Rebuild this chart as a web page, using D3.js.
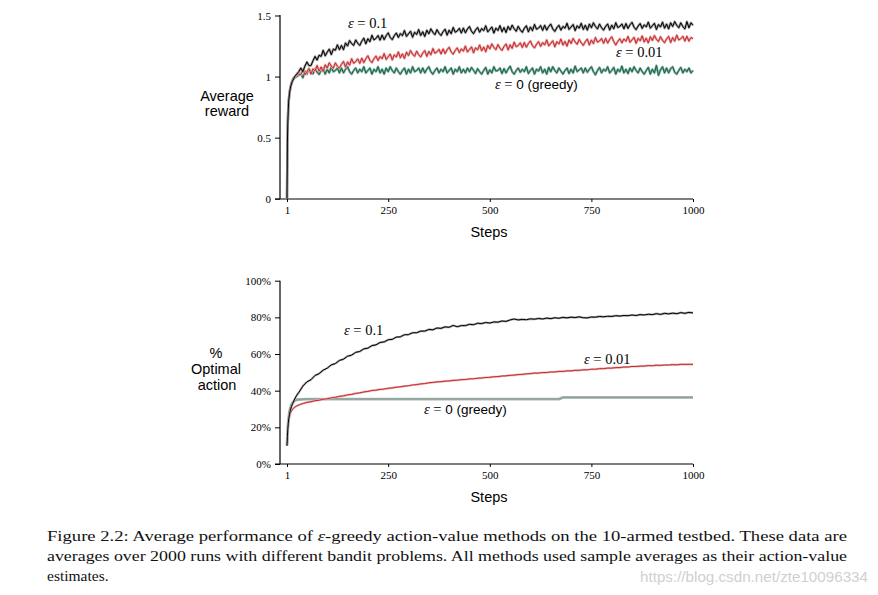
<!DOCTYPE html>
<html>
<head>
<meta charset="utf-8">
<script src="https://cdn.jsdelivr.net/npm/d3@7"></script>
<style>
  html, body { margin: 0; padding: 0; background: #fff; }
  svg { display: block; }
</style>
</head>
<body>
<svg id="chart" width="878" height="595"></svg>
<script>
// ---------- DATA ----------
const xTicks = [1, 250, 500, 750, 1000];
const rewardTicks = [0, 0.5, 1, 1.5];
const optimalTicks = [0, 20, 40, 60, 80, 100];

// Top panel: average reward (steps 1..30 dense, then every 5 steps)
const stepsTop = [1,2,3,4,5,7,9,11,14,17,20,25,30].concat(d3.range(35, 1001, 5));

const rewardEps01 = [
  0.00,0.46,0.62,0.72,0.79,0.86,0.90,0.93,0.96,0.98,1.00,1.02,1.04,
  1.07,1.04,1.085,1.12,1.09,1.09,1.13,1.165,1.135,1.175,
  1.165,1.215,1.17,1.20,1.225,1.18,1.225,1.215,1.26,1.22,
  1.255,1.22,1.275,1.25,1.295,1.27,1.255,1.30,1.273,1.255,
  1.29,1.315,1.268,1.31,1.285,1.338,1.30,1.313,1.336,1.298,
  1.34,1.302,1.335,1.358,1.32,1.302,1.335,1.357,1.32,1.352,
  1.335,1.377,1.329,1.35,1.371,1.322,1.363,1.344,1.385,1.336,
  1.367,1.328,1.379,1.35,1.391,1.362,1.343,1.384,1.355,1.336,
  1.367,1.388,1.339,1.38,1.351,1.402,1.363,1.374,1.395,1.356,
  1.397,1.358,1.389,1.41,1.371,1.351,1.382,1.402,1.363,1.393,
  1.376,1.416,1.366,1.386,1.406,1.356,1.397,1.377,1.417,1.367,
  1.401,1.361,1.411,1.381,1.421,1.391,1.371,1.412,1.382,1.362,
  1.396,1.416,1.366,1.406,1.376,1.427,1.387,1.397,1.418,1.378,
  1.42,1.38,1.41,1.43,1.39,1.37,1.40,1.42,1.38,1.41,
  1.396,1.436,1.386,1.406,1.426,1.376,1.416,1.396,1.436,1.386,
  1.42,1.38,1.43,1.40,1.44,1.41,1.39,1.43,1.40,1.38,
  1.411,1.431,1.381,1.421,1.391,1.441,1.401,1.411,1.431,1.391,
  1.434,1.394,1.424,1.444,1.404,1.384,1.414,1.434,1.394,1.424,
  1.406,1.446,1.396,1.416,1.436,1.386,1.426,1.406,1.446,1.396,
  1.43,1.39,1.44,1.41,1.45,1.42,1.40,1.44,1.41,1.39,
  1.45,1.40,1.44,1.42
];

const rewardEps001 = [
  0.00,0.49,0.64,0.73,0.80,0.87,0.91,0.94,0.97,0.99,1.00,1.01,1.02,
  1.015,1.06,1.015,1.04,1.065,1.02,1.063,1.046,1.09,1.044,
  1.078,1.042,1.096,1.07,1.113,1.086,1.069,1.112,1.085,1.068,
  1.10,1.124,1.077,1.12,1.093,1.146,1.109,1.122,1.145,1.108,
  1.151,1.114,1.147,1.17,1.132,1.114,1.146,1.168,1.131,1.164,
  1.146,1.188,1.14,1.162,1.184,1.136,1.178,1.16,1.202,1.154,
  1.186,1.148,1.20,1.172,1.213,1.184,1.166,1.208,1.179,1.16,
  1.192,1.213,1.165,1.206,1.178,1.229,1.191,1.202,1.223,1.185,
  1.226,1.188,1.219,1.24,1.201,1.183,1.214,1.235,1.196,1.227,
  1.208,1.25,1.201,1.222,1.243,1.195,1.236,1.218,1.259,1.211,
  1.242,1.203,1.255,1.226,1.268,1.239,1.22,1.262,1.233,1.214,
  1.246,1.267,1.218,1.26,1.231,1.282,1.244,1.255,1.276,1.238,
  1.279,1.24,1.271,1.292,1.253,1.234,1.265,1.286,1.247,1.278,
  1.259,1.30,1.251,1.272,1.293,1.244,1.285,1.266,1.307,1.258,
  1.288,1.249,1.30,1.271,1.312,1.283,1.264,1.305,1.276,1.255,
  1.286,1.307,1.258,1.299,1.27,1.32,1.282,1.291,1.312,1.272,
  1.313,1.274,1.305,1.326,1.287,1.258,1.289,1.31,1.276,1.308,
  1.289,1.329,1.28,1.301,1.321,1.272,1.313,1.293,1.333,1.283,
  1.314,1.275,1.326,1.296,1.336,1.306,1.287,1.327,1.297,1.277,
  1.308,1.329,1.279,1.319,1.29,1.34,1.30,1.31,1.33,1.29,
  1.33,1.29,1.32,1.31
];

const rewardGreedy = [
  0.00,0.48,0.63,0.72,0.79,0.86,0.90,0.93,0.96,0.98,0.99,1.00,1.01,
  1.025,0.99,1.045,1.02,1.065,1.04,1.022,1.064,1.036,1.018,
  1.05,1.07,1.02,1.06,1.03,1.08,1.04,1.05,1.07,1.03,
  1.07,1.03,1.06,1.08,1.04,1.02,1.05,1.07,1.03,1.06,
  1.04,1.08,1.03,1.05,1.07,1.02,1.06,1.04,1.08,1.03,
  1.06,1.02,1.07,1.04,1.08,1.05,1.03,1.07,1.04,1.02,
  1.05,1.07,1.02,1.06,1.03,1.08,1.04,1.05,1.07,1.03,
  1.07,1.03,1.06,1.08,1.04,1.02,1.05,1.07,1.03,1.06,
  1.04,1.08,1.03,1.05,1.07,1.02,1.06,1.04,1.08,1.03,
  1.06,1.03,1.07,1.04,1.075,1.05,1.025,1.065,1.04,1.02,
  1.05,1.075,1.02,1.055,1.03,1.08,1.045,1.05,1.07,1.025,
  1.065,1.03,1.06,1.085,1.04,1.02,1.05,1.07,1.035,1.06,
  1.04,1.08,1.025,1.05,1.07,1.02,1.06,1.045,1.08,1.03,
  1.06,1.02,1.075,1.04,1.08,1.05,1.03,1.07,1.045,1.02,
  1.05,1.07,1.025,1.06,1.03,1.085,1.04,1.055,1.07,1.03,
  1.07,1.035,1.06,1.08,1.04,1.015,1.05,1.075,1.03,1.06,
  1.045,1.08,1.03,1.05,1.075,1.02,1.06,1.04,1.085,1.03,
  1.06,1.025,1.07,1.04,1.08,1.05,1.03,1.07,1.04,1.02,
  1.05,1.075,1.02,1.06,1.03,1.09,1.01,1.055,1.08,1.03,
  1.07,1.03,1.065,1.08,1.035,1.02,1.05,1.075,1.03,1.06,
  1.04,1.07,1.03,1.05
];

// Bottom panel: % optimal action (steps 1..30 dense, then every 10 steps)
const stepsBottom = [1,2,3,4,5,7,9,12,15,20,25,30].concat(d3.range(40, 1001, 10));

const optimalEps01 = [
  10,15,19,22,24,27,29,31.5,33,35.5,37.5,39,
  42.5,44.8,46.0,48.3,49.3,51.2,52.3,54.1,54.8,56.5,
  57.2,58.8,59.4,60.9,61.4,62.8,63.2,64.6,65.0,66.3,
  66.6,67.8,68.0,69.2,69.4,70.5,70.6,71.6,71.6,72.5,
  72.5,73.4,73.2,74.2,74.0,74.8,74.6,75.6,74.9,75.5,
  75.5,76.2,76.0,76.8,76.6,77.2,76.9,77.5,77.4,78.0,
  77.8,78.6,79.1,78.6,78.9,78.7,79.2,79.0,79.4,79.1,
  79.6,79.3,79.8,79.5,80.0,79.7,80.1,79.9,80.3,79.8,
  79.7,80.2,80.1,80.5,80.3,80.6,80.5,80.9,80.7,81.0,
  80.9,81.3,81.0,81.5,81.3,81.7,81.5,82.0,81.6,82.2,
  81.9,82.3,82.0,82.6,82.2,82.7,82.4
];

const optimalEps001 = [
  10,14.5,18.5,21.5,23.5,26,27.5,29,30,31,31.7,32.2,
  33.0,33.6,34.0,34.5,34.8,35.3,35.6,36.1,36.4,36.9,
  37.2,37.7,38.0,38.5,38.8,39.3,39.6,40.1,40.3,40.7,
  40.9,41.3,41.5,41.9,42.1,42.5,42.7,43.1,43.3,43.7,
  43.9,44.3,44.5,44.8,44.9,45.2,45.3,45.6,45.7,46.0,
  46.1,46.4,46.5,46.8,46.9,47.2,47.3,47.6,47.7,48.0,
  48.1,48.4,48.5,48.8,48.9,49.2,49.3,49.6,49.6,49.9,
  49.9,50.2,50.2,50.5,50.5,50.8,50.8,51.1,51.1,51.4,
  51.4,51.7,51.7,52.0,52.0,52.3,52.3,52.6,52.6,52.9,
  52.9,53.2,53.2,53.4,53.4,53.7,53.6,53.9,53.8,54.0,
  54.0,54.2,54.1,54.4,54.3,54.4,54.3
];

const optimalGreedy = [
  10,15,19.5,22.5,25,28.5,30.5,32.5,33.5,34.5,35,35.2,
  35.3,35.4,35.4,35.4,35.4,35.4,35.4,35.4,35.4,35.4,
  35.4,35.4,35.4,35.4,35.4,35.4,35.4,35.4,35.4,35.4,
  35.4,35.4,35.4,35.4,35.4,35.4,35.4,35.4,35.4,35.4,
  35.4,35.4,35.4,35.4,35.4,35.4,35.4,35.4,35.4,35.4,
  35.4,35.4,35.4,35.4,35.4,35.4,35.4,35.4,35.4,35.4,
  35.4,35.4,35.4,35.4,35.4,35.4,35.4,35.4,35.4,35.4,
  35.4,35.4,35.4,35.4,
  36.3,36.3,36.3,36.3,36.3,36.3,36.3,36.3,36.3,36.3,
  36.3,36.3,36.3,36.3,36.3,36.3,36.3,36.3,36.3,36.3,
  36.3,36.3,36.3,36.3,36.3,36.3,36.3,36.3,36.3,36.3,
  36.3,36.3,36.3
];

const captionLines = [
  "Figure 2.2: Average performance of \u03b5-greedy action-value methods on the 10-armed testbed. These data are",
  "averages over 2000 runs with different bandit problems. All methods used sample averages as their action-value",
  "estimates."
];

// ---------- DRAWING ----------
const svg = d3.select("#chart");
svg.append("rect").attr("width", 878).attr("height", 595).attr("fill", "#fff");

const SERIF = "'Liberation Serif', 'Times New Roman', serif";
const SANS = "'Liberation Sans', Arial, Helvetica, sans-serif";

const x = d3.scaleLinear().domain([1, 1000]).range([287, 693]);
const yTop = d3.scaleLinear().domain([0, 1.5]).range([198.7, 15.5]);
const yBot = d3.scaleLinear().domain([0, 100]).range([464, 280.7]);

function drawPanel(y, ticks, fmt, axisY, topY) {
  const g = svg.append("g");
  // axis lines
  g.append("line").attr("x1", 275).attr("x2", 693).attr("y1", axisY).attr("y2", axisY)
    .attr("stroke", "#000").attr("stroke-width", 1.2);
  g.append("line").attr("x1", 280).attr("x2", 280).attr("y1", topY).attr("y2", axisY)
    .attr("stroke", "#000").attr("stroke-width", 1.2);
  // y axis
  const ya = g.append("g").attr("transform", "translate(280,0)")
    .call(d3.axisLeft(y).tickValues(ticks).tickSize(5).tickPadding(4).tickFormat(fmt));
  ya.select(".domain").remove();
  ya.selectAll("text").attr("font-family", SERIF).attr("font-size", 11).attr("fill", "#000");
  ya.selectAll("line").attr("stroke", "#000");
  // x axis
  const xa = g.append("g").attr("transform", `translate(0,${axisY})`)
    .call(d3.axisBottom(x).tickValues(xTicks).tickSize(3).tickPadding(4).tickFormat(d => d));
  xa.select(".domain").remove();
  xa.selectAll("text").attr("font-family", SERIF).attr("font-size", 11).attr("fill", "#000");
  xa.selectAll("line").attr("stroke", "#000");
  // Steps label
  g.append("text").attr("x", 489).attr("y", axisY + 38).attr("text-anchor", "middle")
    .attr("font-family", SANS).attr("font-size", 14.5).text("Steps");
  return g;
}

function drawSeries(g, steps, vals, y, color, halo, w, hw) {
  const line = d3.line().x((d, i) => x(steps[i])).y(d => y(d));
  g.append("path").datum(vals).attr("d", line).attr("fill", "none")
    .attr("stroke", halo).attr("stroke-width", hw).attr("stroke-linejoin", "round");
  g.append("path").datum(vals).attr("d", line).attr("fill", "none")
    .attr("stroke", color).attr("stroke-width", w).attr("stroke-linejoin", "round");
}

function epsLabel(g, xPos, yPos, value, sansValue) {
  const t = g.append("text").attr("x", xPos).attr("y", yPos)
    .attr("font-family", SERIF).attr("font-size", 14.5).attr("fill", "#000");
  t.append("tspan").attr("font-style", "italic").text("\u03b5");
  if (sansValue) {
    t.append("tspan").text(" = ");
    t.append("tspan").attr("font-family", SANS).attr("font-size", 13.5).text(value);
  } else {
    t.append("tspan").text(" = " + value);
  }
}

// ----- Top panel -----
const gTop = drawPanel(yTop, rewardTicks, d => String(d), 199, 15);
const gTopLines = gTop.append("g");
drawSeries(gTopLines, stepsTop, rewardGreedy, yTop, "#006a4a", "#8fa89c", 1, 2.4);
drawSeries(gTopLines, stepsTop, rewardEps001, yTop, "#c22a2e", "#e8a3a3", 1, 2.4);
drawSeries(gTopLines, stepsTop, rewardEps01, yTop, "#000", "#9a9a9a", 1, 2.4);

gTop.append("text").attr("x", 227).attr("y", 101).attr("text-anchor", "middle")
  .attr("font-family", SANS).attr("font-size", 14.5).text("Average");
gTop.append("text").attr("x", 227).attr("y", 116).attr("text-anchor", "middle")
  .attr("font-family", SANS).attr("font-size", 14.5).text("reward");

epsLabel(gTop, 348, 28, "0.1", false);
epsLabel(gTop, 616, 57, "0.01", false);
epsLabel(gTop, 495, 89, "0 (greedy)", true);

// ----- Bottom panel -----
const gBot = drawPanel(yBot, optimalTicks, d => d + "%", 464, 280.7);
const gBotLines = gBot.append("g");
drawSeries(gBotLines, stepsBottom, optimalGreedy, yBot, "#8ea39a", "#a9b8b1", 1.5, 2.8);
drawSeries(gBotLines, stepsBottom, optimalEps001, yBot, "#c22a2e", "#eab0b0", 1, 2.2);
drawSeries(gBotLines, stepsBottom, optimalEps01, yBot, "#000", "#a8a8a8", 1, 2.2);

gBot.append("text").attr("x", 216).attr("y", 358).attr("text-anchor", "middle")
  .attr("font-family", SANS).attr("font-size", 14.5).text("%");
gBot.append("text").attr("x", 216).attr("y", 374).attr("text-anchor", "middle")
  .attr("font-family", SANS).attr("font-size", 14.5).text("Optimal");
gBot.append("text").attr("x", 217).attr("y", 390).attr("text-anchor", "middle")
  .attr("font-family", SANS).attr("font-size", 14.5).text("action");

epsLabel(gBot, 344, 335, "0.1", false);
epsLabel(gBot, 584, 364, "0.01", false);
epsLabel(gBot, 424, 414, "0 (greedy)", true);

// ----- Caption -----
const cap = svg.append("g").attr("font-family", SERIF).attr("font-size", 15.5).attr("fill", "#111");
const capY = [541, 561, 581];
captionLines.forEach((s, i) => {
  const t = cap.append("text").attr("x", 47).attr("y", capY[i]);
  if (i < 2) t.attr("textLength", 800).attr("lengthAdjust", "spacingAndGlyphs");
  if (s.indexOf("\u03b5") >= 0) {
    const parts = s.split("\u03b5");
    t.append("tspan").text(parts[0]);
    t.append("tspan").attr("font-style", "italic").text("\u03b5");
    t.append("tspan").text(parts[1]);
  } else {
    t.text(s);
  }
});

// watermark
svg.append("text").attr("x", 640).attr("y", 582)
  .attr("font-family", SANS).attr("font-size", 14).attr("fill", "#d0d0d0")
  .attr("textLength", 228).attr("lengthAdjust", "spacingAndGlyphs")
  .text("https://blog.csdn.net/zte10096334");
</script>
</body>
</html>
